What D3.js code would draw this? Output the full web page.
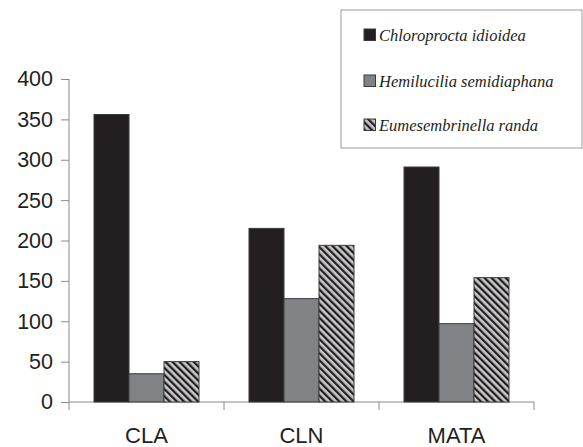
<!DOCTYPE html>
<html><head><meta charset="utf-8">
<script src="https://cdn.jsdelivr.net/npm/d3@7"></script>
<style>body{margin:0;background:#fff}</style>
</head><body>
<svg id="c" width="583" height="447"></svg>
<script>
const categories = ["CLA", "CLN", "MATA"];
const series = ["Chloroprocta idioidea", "Hemilucilia semidiaphana", "Eumesembrinella randa"];
const chloroprocta = [356, 215, 291];
const hemilucilia = [35, 128, 97];
const eumesembrinella = [50, 194, 154];
const yTicks = [0, 50, 100, 150, 200, 250, 300, 350, 400];

const values = [chloroprocta, hemilucilia, eumesembrinella];
const svg = d3.select("#c");
const defs = svg.append("defs");
const pat = defs.append("pattern").attr("id","hatch").attr("patternUnits","userSpaceOnUse")
  .attr("width",5).attr("height",5).attr("patternTransform","rotate(-45)");
pat.append("rect").attr("width",5).attr("height",5).attr("fill","#c8c8ca");
pat.append("rect").attr("x",0).attr("y",0).attr("width",2.3).attr("height",5).attr("fill","#231f20");

const fills = ["#231f20", "#808285", "url(#hatch)"];
const x0 = d3.scaleBand().domain(categories).range([69, 534]).paddingInner(0).paddingOuter(0);
const x1 = d3.scaleBand().domain(d3.range(3)).range([25, x0.bandwidth()-25]);
const y = d3.scaleLinear().domain([0, 400]).range([402, 79]);

// axes
const axisColor = "#8a8a8a";
const yAxis = svg.append("g").attr("transform","translate(69,0)")
  .call(d3.axisLeft(y).tickValues(yTicks).tickSize(8).tickPadding(8));
yAxis.select(".domain").attr("stroke",axisColor).attr("d","M0,79V402");
yAxis.selectAll(".tick line").attr("stroke",axisColor);
yAxis.selectAll(".tick text").attr("font-family","Liberation Sans, Arial, sans-serif").attr("font-size",21.5).attr("fill","#231f20");

const xAxis = svg.append("g").attr("transform","translate(0,402)");
xAxis.append("line").attr("x1",69).attr("x2",534).attr("stroke",axisColor);
const bounds = categories.map(c => x0(c)).concat([x0(categories[2]) + x0.bandwidth()]);
xAxis.selectAll("line.t").data(bounds).enter().append("line")
  .attr("x1",d=>d).attr("x2",d=>d).attr("y1",0).attr("y2",8).attr("stroke",axisColor);
xAxis.selectAll("text").data(categories).enter().append("text")
  .attr("x",d=>x0(d)+x0.bandwidth()/2).attr("y",41).attr("text-anchor","middle")
  .attr("font-family","Liberation Sans, Arial, sans-serif").attr("font-size",22).attr("fill","#231f20")
  .text(d=>d);

// bars
categories.forEach((c, ci) => {
  values.forEach((arr, si) => {
    svg.append("rect")
      .attr("x", x0(c) + x1(si)).attr("width", x1.bandwidth())
      .attr("y", y(arr[ci])).attr("height", y(0) - y(arr[ci]))
      .attr("fill", fills[si]).attr("stroke", "#3a3a3a").attr("stroke-width", 1);
  });
});

// legend
const lg = svg.append("g");
lg.append("rect").attr("x",341).attr("y",10).attr("width",241).attr("height",138)
  .attr("fill","#fff").attr("stroke","#9a9a9a").attr("stroke-width",1);
const rowY = [35, 81, 125];
series.forEach((s, i) => {
  lg.append("rect").attr("x",364).attr("y",rowY[i]-6).attr("width",11.5).attr("height",11.5)
    .attr("fill",fills[i]).attr("stroke","#3a3a3a");
  lg.append("text").attr("x",379).attr("y",rowY[i]+6)
    .attr("font-family","Liberation Serif, Times New Roman, serif").attr("font-style","italic")
    .attr("font-size",16.5).attr("fill","#231f20").text(s);
});
</script>
</body></html>
